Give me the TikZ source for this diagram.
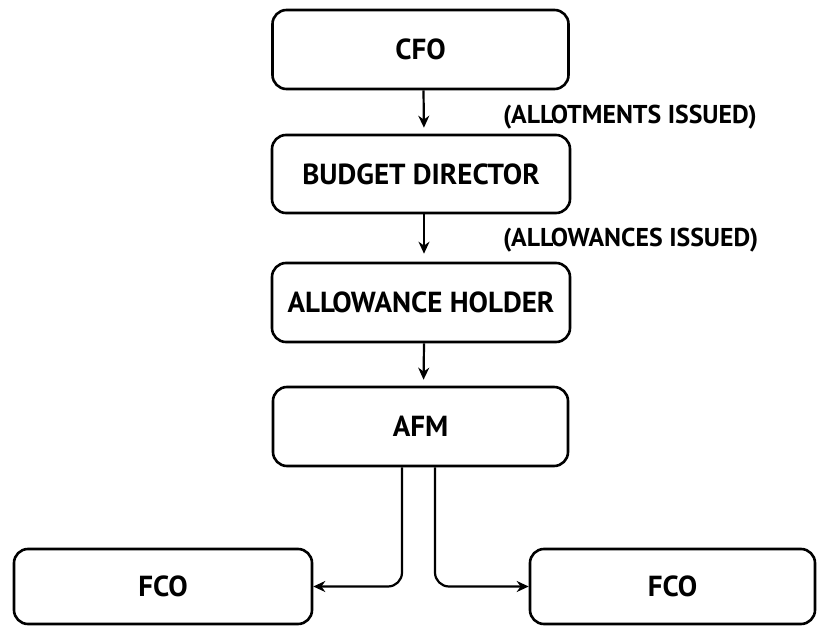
\documentclass[tikz,border=0pt]{standalone}
\usepackage{fontspec}
\setmainfont{PT Sans}
\usetikzlibrary{arrows.meta}
\begin{document}
\begin{tikzpicture}[x=1pt,y=1pt,
  box/.style={draw, line width=2.6pt, rounded corners=14pt, inner sep=0pt, font=\fontsize{29}{33}\selectfont\bfseries},
  conn/.style={line width=2.2pt, -{Stealth[length=12pt,width=11pt]}},
  lbl/.style={anchor=west, inner sep=0pt, font=\fontsize{25.8}{29}\selectfont\bfseries}]
\useasboundingbox (0,0) rectangle (817,-626);
\node[box, minimum width=296pt, minimum height=79pt] (cfo) at (420.5,-49.5) {CFO};
\node[box, minimum width=298pt, minimum height=78pt] (bd) at (421,-174) {BUDGET DIRECTOR};
\node[box, minimum width=298pt, minimum height=79pt] (ah) at (421,-302.5) {ALLOWANCE HOLDER};
\node[box, minimum width=295pt, minimum height=79pt] (afm) at (420.5,-426.5) {AFM};
\node[box, minimum width=298pt, minimum height=75pt] (fcol) at (163,-586.5) {FCO};
\node[box, minimum width=285pt, minimum height=75pt] (fcor) at (672.5,-586.5) {FCO};
\node[lbl] (l1) at (503,-117) {(ALLOTMENTS ISSUED)};
\node[lbl] (l2) at (503,-240) {(ALLOWANCES ISSUED)};
\draw[conn, shorten >=6pt] ([xshift=3pt]cfo.south) -- ([xshift=3pt]bd.north);
\draw[conn, shorten >=8pt] ([xshift=3pt]bd.south) -- ([xshift=3pt]ah.north);
\draw[conn, shorten >=6pt] ([xshift=3pt]ah.south) -- ([xshift=3pt]afm.north);
\draw[conn, rounded corners=14pt] ([xshift=-18.5pt]afm.south) |- (fcol.east);
\draw[conn, rounded corners=14pt] ([xshift=14.5pt]afm.south) |- (fcor.west);
\end{tikzpicture}
\end{document}
